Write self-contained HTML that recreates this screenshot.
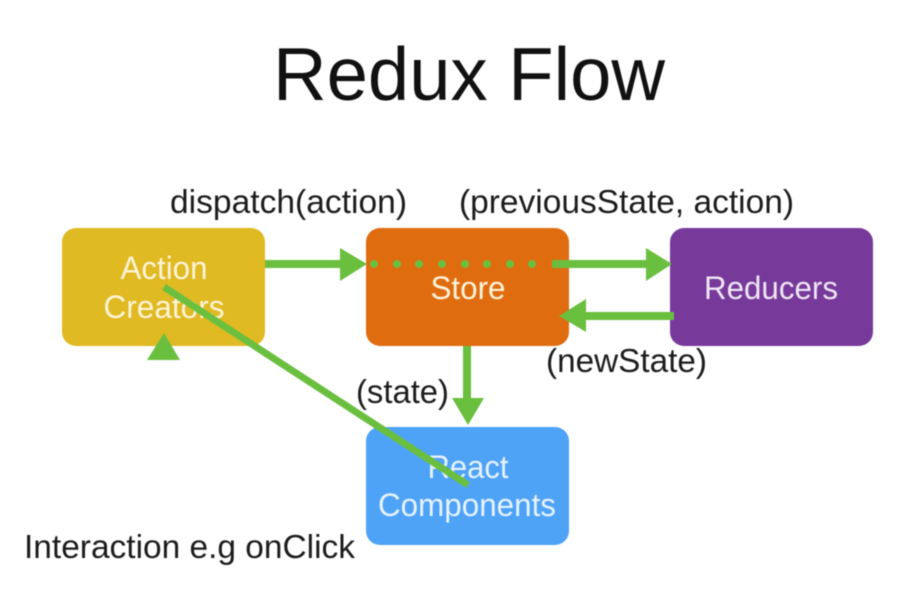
<!DOCTYPE html>
<html>
<head>
<meta charset="utf-8">
<style>
html,body{margin:0;padding:0;background:#fff;}
body{width:913px;height:600px;overflow:hidden;}
svg{display:block;filter:blur(0.5px);}
text{font-family:"Liberation Sans",Arial,sans-serif;}
</style>
</head>
<body>
<svg width="913" height="600" viewBox="0 0 913 600" xmlns="http://www.w3.org/2000/svg">
<rect width="913" height="600" fill="#fff"/>
<text x="469" y="100" font-size="75" fill="#111" text-anchor="middle" textLength="392" lengthAdjust="spacingAndGlyphs">Redux Flow</text>

<rect x="62" y="228" width="203" height="118" rx="14" fill="#e0ba22"/>
<rect x="366" y="228" width="203" height="118" rx="14" fill="#e06c10"/>
<rect x="670" y="228" width="203" height="118" rx="14" fill="#773a9b"/>
<rect x="366" y="427" width="203" height="118" rx="14" fill="#4fa3f7"/>

<g font-size="32.5" fill="#fff3d8" text-anchor="middle">
<text x="164" y="279" textLength="87" lengthAdjust="spacingAndGlyphs">Action</text>
<text x="164" y="318" textLength="121" lengthAdjust="spacingAndGlyphs">Creators</text>
<text x="468" y="299" textLength="75" lengthAdjust="spacingAndGlyphs">Store</text>
<text x="771" y="299" fill="#efe6f3" textLength="134" lengthAdjust="spacingAndGlyphs">Reducers</text>
<text x="468" y="478" fill="#e6f2ff" textLength="81" lengthAdjust="spacingAndGlyphs">React</text>
<text x="467" y="516" fill="#e6f2ff" textLength="178" lengthAdjust="spacingAndGlyphs">Components</text>
</g>

<g font-size="33.5" fill="#1c1c1c">
<text x="170" y="213" textLength="237" lengthAdjust="spacingAndGlyphs">dispatch(action)</text>
<text x="459" y="213" textLength="335" lengthAdjust="spacingAndGlyphs">(previousState, action)</text>
<text x="546" y="372" textLength="161" lengthAdjust="spacingAndGlyphs">(newState)</text>
<text x="356" y="403" textLength="93" lengthAdjust="spacingAndGlyphs">(state)</text>
<text x="24" y="558" textLength="331" lengthAdjust="spacingAndGlyphs">Interaction e.g onClick</text>
</g>

<g fill="#6abf3f" stroke="none">
<rect x="265" y="260" width="77" height="8"/>
<polygon points="340,248 367,264 340,281"/>
<circle cx="374" cy="264" r="4"/>
<circle cx="397" cy="264" r="4"/>
<circle cx="419" cy="264" r="4"/>
<circle cx="442" cy="264" r="4"/>
<circle cx="465" cy="264" r="4"/>
<circle cx="487" cy="264" r="4"/>
<circle cx="510" cy="264" r="4"/>
<circle cx="532" cy="264" r="4"/>
<rect x="552" y="260" width="96" height="8"/>
<polygon points="646,248 672,264 646,281"/>
<rect x="584" y="312" width="90" height="8"/>
<polygon points="586,299 559,316 586,332"/>
<rect x="463" y="346" width="8" height="53"/>
<polygon points="452,398 484,398 468,425"/>
<polygon points="147,360 180,360 164,333"/>
</g>
<line x1="164" y1="287" x2="468" y2="485" stroke="#6abf3f" stroke-width="7"/>
</svg>
</body>
</html>
